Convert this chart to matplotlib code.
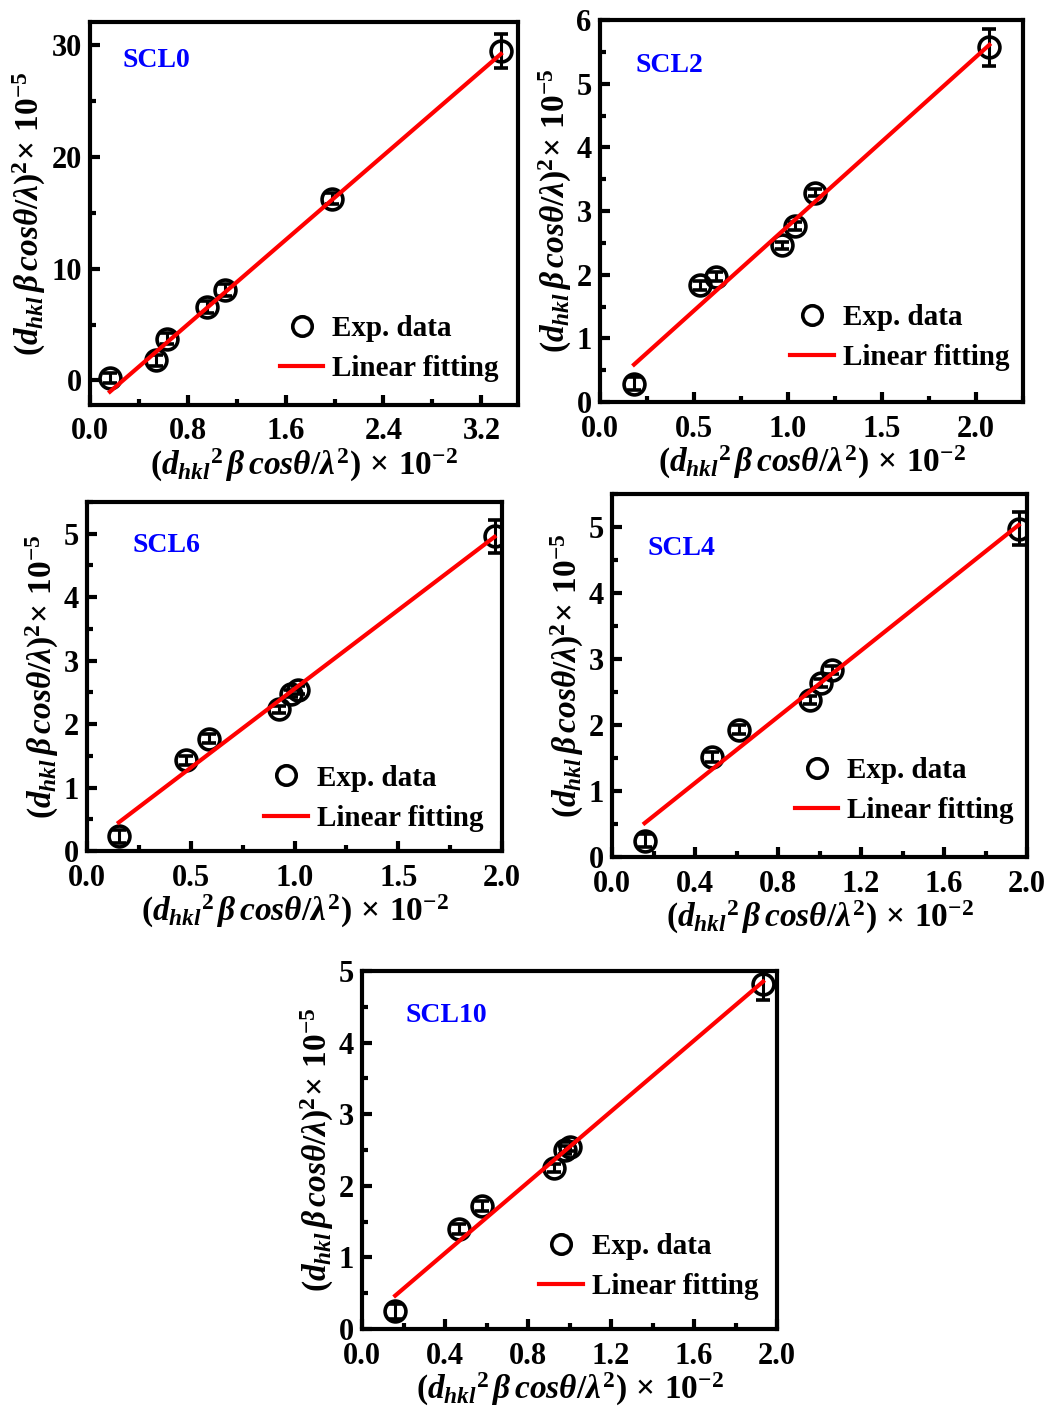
import numpy as np
import matplotlib
matplotlib.use("Agg")
import matplotlib.pyplot as plt
from matplotlib.ticker import MultipleLocator
from matplotlib.lines import Line2D

plt.rcParams.update({
    "font.family": "Liberation Serif",
    "font.weight": "bold",
    "mathtext.fontset": "custom",
    "mathtext.rm": "Liberation Serif:bold",
    "mathtext.it": "Liberation Serif:italic:bold",
    "mathtext.bf": "Liberation Serif:bold",
})

W, H = 1045, 1420

# Williamson-Hall style data for each sample
SCL0_X = [0.163, 0.536, 0.626, 0.958, 1.105, 1.978, 3.36]
SCL0_Y = [0.2, 1.8, 3.73, 6.56, 8.12, 16.27, 29.5]
SCL0_ERR = [0.45, 0.5, 0.5, 0.55, 0.55, 0.5, 1.55]
SCL0_FIT = (9.46, -2.55)

SCL2_X = [0.181, 0.533, 0.619, 0.969, 1.035, 1.141, 2.071]
SCL2_Y = [0.29, 1.83, 1.965, 2.46, 2.76, 3.29, 5.57]
SCL2_ERR = [0.1, 0.07, 0.07, 0.06, 0.06, 0.06, 0.29]
SCL2_FIT = (2.657, 0.107)

SCL6_X = [0.153, 0.475, 0.588, 0.924, 0.984, 1.016, 1.964]
SCL6_Y = [0.23, 1.43, 1.77, 2.23, 2.48, 2.54, 4.96]
SCL6_ERR = [0.1, 0.07, 0.07, 0.06, 0.06, 0.06, 0.26]
SCL6_FIT = (2.485, 0.07)

SCL4_X = [0.157, 0.482, 0.610, 0.952, 1.007, 1.060, 1.960]
SCL4_Y = [0.25, 1.515, 1.93, 2.38, 2.63, 2.84, 4.97]
SCL4_ERR = [0.1, 0.07, 0.07, 0.06, 0.06, 0.06, 0.25]
SCL4_FIT = (2.506, 0.119)

SCL10_X = [0.160, 0.469, 0.578, 0.927, 0.980, 1.004, 1.933]
SCL10_Y = [0.246, 1.40, 1.715, 2.25, 2.50, 2.545, 4.815]
SCL10_ERR = [0.1, 0.07, 0.07, 0.06, 0.06, 0.06, 0.22]
SCL10_FIT = (2.474, 0.07)

XLABEL = r"$(d_{hkl}{}^{2}\,\beta\,cos\theta/\lambda^{2})\,\times\,10^{-2}$"
YLABEL = r"$(d_{hkl}\,\beta\,cos\theta/\lambda)^{2}\!\times\,10^{-5}$"

# (name, x, y, err, fit, rect px (l, t, r, b), xlim, ylim, xticks, yticks, tag pos, legend anchor)
panels = [
    ("SCL0", SCL0_X, SCL0_Y, SCL0_ERR, SCL0_FIT, (90, 22, 518, 405),
     (0, 3.5), (-2.2, 32.1), (0.8, 0.4), (10, 5), (0.075, 0.90), (0.955, 0.06)),
    ("SCL2", SCL2_X, SCL2_Y, SCL2_ERR, SCL2_FIT, (600, 20, 1023, 402),
     (0, 2.25), (0, 6), (0.5, 0.25), (1, 0.5), (0.083, 0.88), (0.968, 0.08)),
    ("SCL6", SCL6_X, SCL6_Y, SCL6_ERR, SCL6_FIT, (87, 502, 502, 851),
     (0, 2.0), (0, 5.5), (0.5, 0.25), (1, 0.5), (0.11, 0.876), (0.955, 0.055)),
    ("SCL4", SCL4_X, SCL4_Y, SCL4_ERR, SCL4_FIT, (612, 494, 1027, 857),
     (0, 2.0), (0, 5.5), (0.4, 0.2), (1, 0.5), (0.085, 0.85), (0.968, 0.09)),
    ("SCL10", SCL10_X, SCL10_Y, SCL10_ERR, SCL10_FIT, (362, 971, 777, 1329),
     (0, 2.0), (0, 5.0), (0.4, 0.2), (1, 0.5), (0.104, 0.876), (0.955, 0.08)),
]

fig = plt.figure(figsize=(W / 100, H / 100), dpi=100, facecolor="white")

for (name, xs, ys, err, fit, rect, xlim, ylim, xt, yt, tag, anchor) in panels:
    l, t, r, b = rect
    ax = fig.add_axes([l / W, 1 - b / H, (r - l) / W, (b - t) / H])

    xs = np.array(xs)
    ys = np.array(ys)
    ax.errorbar(xs, ys, yerr=err, fmt="o", ms=15, mfc="none", mec="black",
                mew=2.6, ecolor="black", elinewidth=2.2, capsize=5, capthick=2.2,
                zorder=2)
    slope, icpt = fit
    xf = np.array([xs[0], xs[-1]])
    ax.plot(xf, slope * xf + icpt, color="#ff0000", lw=3, zorder=3)

    ax.set_xlim(*xlim)
    ax.set_ylim(*ylim)
    ax.xaxis.set_major_locator(MultipleLocator(xt[0]))
    ax.xaxis.set_minor_locator(MultipleLocator(xt[1]))
    ax.yaxis.set_major_locator(MultipleLocator(yt[0]))
    ax.yaxis.set_minor_locator(MultipleLocator(yt[1]))
    ax.tick_params(which="both", direction="in", width=3, labelsize=22)
    ax.tick_params(axis="x", which="major", pad=9)
    ax.tick_params(axis="y", which="major", pad=6)
    ax.tick_params(which="major", length=7)
    ax.tick_params(which="minor", length=4)
    for sp in ax.spines.values():
        sp.set_linewidth(3)

    ax.set_xlabel(XLABEL, fontsize=24, labelpad=0)
    ax.set_ylabel(YLABEL, fontsize=24, labelpad=2)

    ax.text(tag[0], tag[1], name, transform=ax.transAxes, color="#0000ff",
            fontsize=20, fontweight="bold", va="center", ha="left")

    handles = [
        Line2D([], [], ls="none", marker="o", ms=14, mfc="none", mec="black", mew=2.6),
        Line2D([], [], color="#ff0000", lw=3),
    ]
    ax.legend(handles, ["Exp. data", "Linear fitting"], loc="lower right",
              bbox_to_anchor=anchor, frameon=False, fontsize=21,
              handlelength=1.5, handletextpad=0.3, labelspacing=0.45,
              borderpad=0, borderaxespad=0)

fig.savefig("out.png", dpi=100, facecolor="white")
